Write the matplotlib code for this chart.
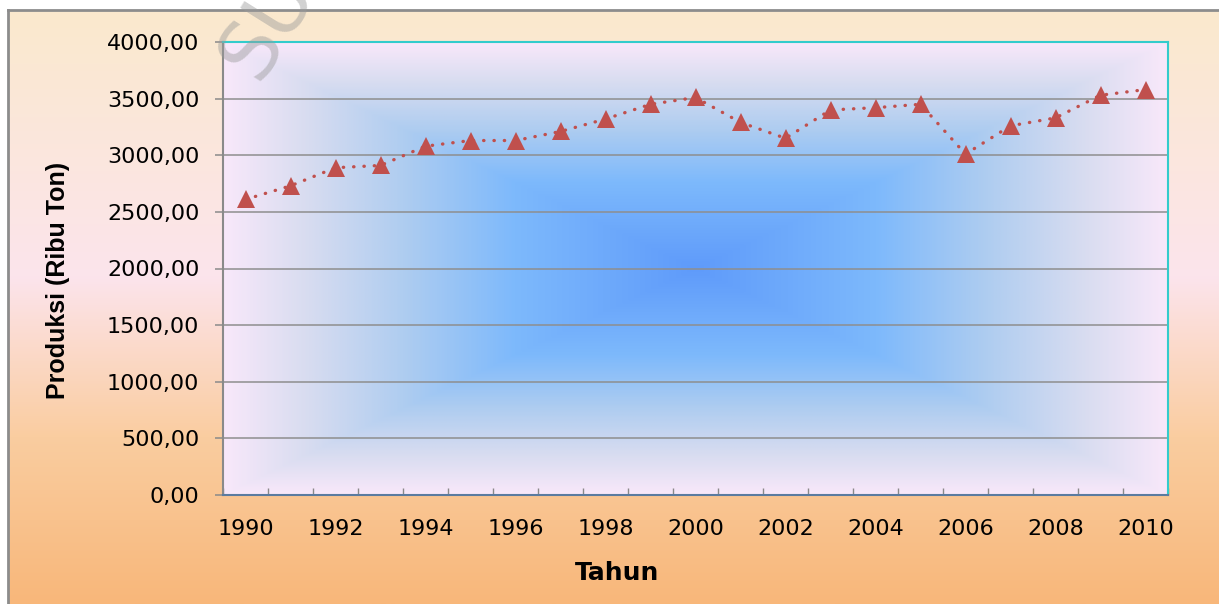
import numpy as np
import matplotlib.pyplot as plt
from matplotlib.colors import LinearSegmentedColormap

# data
years = list(range(1990, 2011))
produksi = [2610, 2730, 2890, 2910, 3080, 3130, 3130, 3210, 3320, 3450, 3510,
            3290, 3150, 3400, 3420, 3450, 3010, 3260, 3330, 3530, 3580]
y_ticks = [0, 500, 1000, 1500, 2000, 2500, 3000, 3500, 4000]
x_labels = [str(y) for y in range(1990, 2011, 2)]

W, H = 1219, 604
fig = plt.figure(figsize=(W / 100, H / 100), dpi=100, facecolor="white")

# outer chart background (vertical gradient)
bg = fig.add_axes([8 / W, 0, 1 - 8 / W, 1 - 10 / H], zorder=-2)
bg_cmap = LinearSegmentedColormap.from_list("bg", [
    (0.0, (250 / 255, 233 / 255, 205 / 255)),
    (0.45, (252 / 255, 228 / 255, 236 / 255)),
    (0.72, (250 / 255, 205 / 255, 160 / 255)),
    (1.0, (248 / 255, 183 / 255, 122 / 255)),
])
grad = np.linspace(0, 1, 256).reshape(-1, 1)
bg.imshow(grad, aspect="auto", cmap=bg_cmap, extent=[0, 1, 0, 1], origin="upper")
bg.set_xlim(0, 1)
bg.set_ylim(0, 1)
bg.set_xticks([])
bg.set_yticks([])
for s in ["right", "bottom"]:
    bg.spines[s].set_visible(False)
for s in ["top", "left"]:
    bg.spines[s].set_color("#8c8c8c")
    bg.spines[s].set_linewidth(2)

# plot area
ax = fig.add_axes([223 / W, (H - 495) / H, 945 / W, 453 / H])
pa_cmap = LinearSegmentedColormap.from_list("pa", [
    (0.0, (95 / 255, 155 / 255, 250 / 255)),
    (0.38, (125 / 255, 185 / 255, 252 / 255)),
    (0.62, (175 / 255, 205 / 255, 240 / 255)),
    (0.82, (215 / 255, 220 / 255, 240 / 255)),
    (1.0, (248 / 255, 232 / 255, 250 / 255)),
])
u, v = np.meshgrid(np.linspace(-1, 1, 400), np.linspace(-1, 1, 300))
cheb = np.maximum(np.abs(u), np.abs(v))
ax.imshow(cheb, aspect="auto", cmap=pa_cmap, extent=[0, 1, 0, 1],
          transform=ax.transAxes, zorder=0, interpolation="bilinear")

ax.set_xlim(1989.5, 2010.5)
ax.set_ylim(0, 4000)
ax.set_yticks(y_ticks)
ax.set_yticklabels(["%d,00" % t for t in y_ticks])
ax.yaxis.grid(True, color="#8e8e8e", linewidth=1.1, zorder=1)
ax.set_axisbelow(True)

ax.set_xticks(range(1990, 2011, 2))
ax.set_xticklabels(x_labels)
ax.set_xticks(np.arange(1989.5, 2011, 1), minor=True)
ax.tick_params(axis="x", which="major", length=0, pad=17, labelsize=16)
ax.tick_params(axis="x", which="minor", direction="in", length=5, color="#8a8a8a", width=1)
ax.tick_params(axis="y", length=6, color="#8a8a8a", width=1.1, pad=11, labelsize=16)

ax.spines["top"].set_color("#33cccc")
ax.spines["right"].set_color("#33cccc")
ax.spines["left"].set_color("#8a8a8a")
ax.spines["bottom"].set_color("#5b7ba0")
for s in ax.spines.values():
    s.set_linewidth(1.5)

ax.plot(years, produksi, color="#c0504d", linewidth=2.4, linestyle=(0, (0.1, 3.0)),
        dash_capstyle="round", marker="^", markersize=13, markeredgewidth=0, zorder=3)

fig.text(617 / W, 1 - 573 / H, "Tahun", ha="center", va="center",
         fontsize=18, fontweight="bold")
fig.text(58 / W, 1 - 280 / H, "Produksi (Ribu Ton)", ha="center", va="center",
         rotation=90, fontsize=18, fontweight="bold", family="Liberation Sans")

# watermark
fig.text(258 / W, 1 - 82 / H, "SU", rotation=58, rotation_mode="anchor",
         ha="left", va="baseline", fontsize=58, color="#9a9a9a", alpha=0.45)

fig.savefig("out.png", dpi=100, facecolor="white")
